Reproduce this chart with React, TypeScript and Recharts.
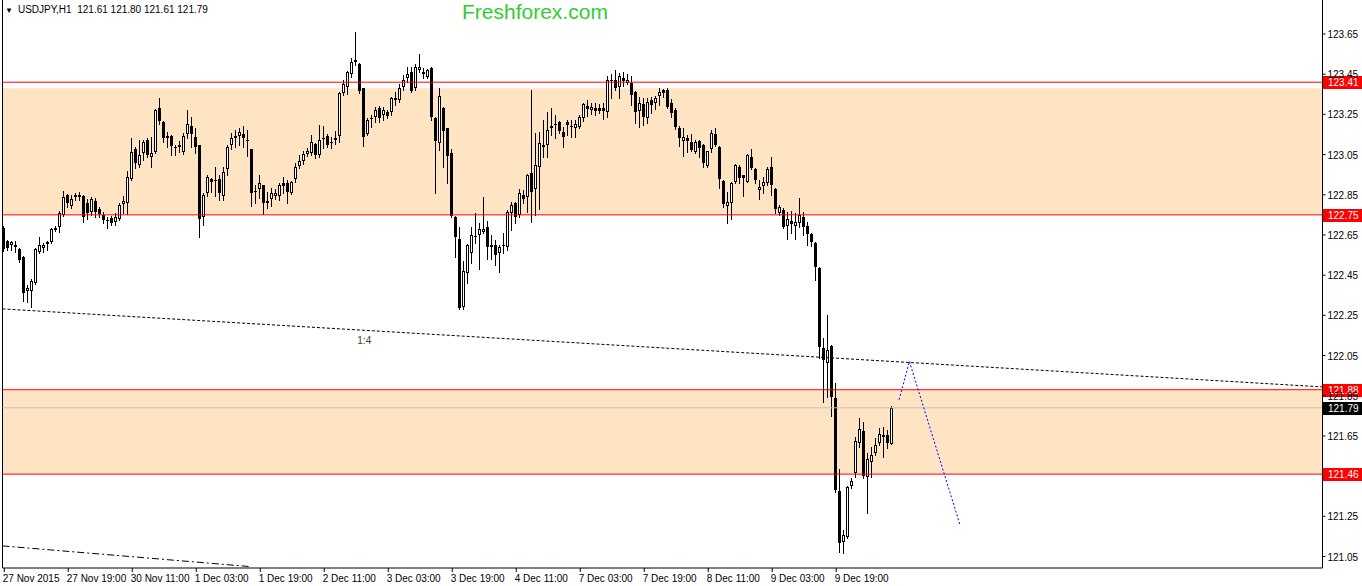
import React from 'react';
import {
  ComposedChart,
  Bar,
  XAxis,
  YAxis,
  ReferenceArea,
  ReferenceLine,
  ReferenceDot,
} from 'recharts';

// USDJPY H1 candles (bar 0 = 27 Nov 2015)
const opens = [
  122.685, 122.620, 122.600, 122.600, 122.580, 122.540, 122.371, 122.371, 122.411, 122.565,
  122.585, 122.605, 122.615, 122.685, 122.690, 122.749, 122.849, 122.794, 122.839, 122.849,
  122.844, 122.809, 122.764, 122.819, 122.779, 122.749, 122.725, 122.734, 122.715, 122.729,
  122.804, 122.809, 122.928, 123.078, 122.998, 123.058, 123.123, 123.038, 123.063, 123.282,
  123.212, 123.142, 123.142, 123.088, 123.098, 123.063, 123.152, 123.192, 123.137, 123.098,
  122.739, 122.859, 122.928, 122.924, 122.928, 122.844, 122.978, 123.098, 123.142, 123.142,
  123.152, 123.123, 123.078, 122.869, 122.879, 122.899, 122.819, 122.829, 122.844, 122.844,
  122.909, 122.909, 122.859, 122.928, 122.993, 123.018, 123.053, 123.058, 123.103, 123.048,
  123.128, 123.142, 123.108, 123.123, 123.142, 123.356, 123.386, 123.451, 123.521, 123.501,
  123.381, 123.152, 123.227, 123.237, 123.282, 123.247, 123.262, 123.262, 123.322, 123.322,
  123.386, 123.431, 123.461, 123.381, 123.471, 123.461, 123.436, 123.481, 123.232, 123.108,
  123.282, 123.182, 123.058, 122.739, 122.630, 122.292, 122.461, 122.560, 122.640, 122.650,
  122.665, 122.690, 122.600, 122.600, 122.560, 122.595, 122.590, 122.759, 122.809, 122.749,
  122.849, 122.839, 122.958, 122.879, 122.988, 123.098, 123.098, 123.182, 123.197, 123.212,
  123.162, 123.212, 123.192, 123.182, 123.187, 123.232, 123.292, 123.272, 123.282, 123.282,
  123.282, 123.262, 123.416, 123.421, 123.386, 123.431, 123.406, 123.406, 123.361, 123.267,
  123.302, 123.232, 123.322, 123.307, 123.341, 123.371, 123.371, 123.307, 123.272, 123.182,
  123.118, 123.132, 123.113, 123.063, 123.118, 123.098, 122.993, 123.078, 123.152, 123.088,
  122.919, 122.794, 122.809, 122.914, 122.988, 122.948, 122.914, 123.038, 122.978, 122.874,
  122.894, 122.909, 122.988, 122.879, 122.759, 122.774, 122.695, 122.720, 122.695, 122.710,
  122.739, 122.695, 122.655, 122.610, 122.486, 122.088, 122.013, 122.098, 121.839, 121.376,
  121.123, 121.147, 121.401, 121.466, 121.615, 121.675, 121.446, 121.521, 121.565, 121.615,
  121.655, 121.655, 121.610,
];

const highs = [
  122.695, 122.625, 122.620, 122.620, 122.585, 122.545, 122.401, 122.431, 122.585, 122.640,
  122.610, 122.620, 122.685, 122.695, 122.769, 122.869, 122.854, 122.849, 122.859, 122.864,
  122.849, 122.829, 122.839, 122.834, 122.789, 122.764, 122.739, 122.744, 122.759, 122.809,
  122.844, 122.968, 123.132, 123.088, 123.123, 123.123, 123.132, 123.137, 123.277, 123.331,
  123.217, 123.162, 123.147, 123.098, 123.118, 123.157, 123.272, 123.237, 123.182, 123.100,
  122.859, 122.948, 122.933, 122.988, 122.948, 122.988, 123.098, 123.157, 123.172, 123.182,
  123.192, 123.172, 123.080, 122.899, 122.948, 122.900, 122.864, 122.884, 122.879, 122.909,
  122.938, 122.924, 122.916, 123.008, 123.048, 123.068, 123.083, 123.147, 123.108, 123.197,
  123.192, 123.152, 123.137, 123.167, 123.361, 123.421, 123.466, 123.530, 123.660, 123.506,
  123.383, 123.232, 123.247, 123.287, 123.292, 123.287, 123.272, 123.336, 123.361, 123.401,
  123.446, 123.486, 123.486, 123.501, 123.550, 123.481, 123.476, 123.486, 123.237, 123.381,
  123.287, 123.184, 123.078, 122.744, 122.690, 122.521, 122.605, 122.690, 122.759, 122.710,
  122.839, 122.720, 122.650, 122.625, 122.600, 122.660, 122.774, 122.814, 122.814, 122.879,
  122.874, 122.953, 123.371, 123.157, 123.162, 123.222, 123.262, 123.282, 123.247, 123.217,
  123.187, 123.222, 123.222, 123.222, 123.247, 123.307, 123.322, 123.307, 123.307, 123.302,
  123.307, 123.441, 123.451, 123.471, 123.456, 123.461, 123.451, 123.441, 123.366, 123.336,
  123.331, 123.331, 123.336, 123.341, 123.381, 123.376, 123.381, 123.326, 123.282, 123.192,
  123.182, 123.147, 123.152, 123.123, 123.123, 123.103, 123.070, 123.172, 123.182, 123.093,
  122.924, 122.864, 122.911, 123.003, 122.998, 122.950, 123.053, 123.078, 122.983, 122.924,
  122.938, 122.988, 123.038, 122.884, 122.799, 122.784, 122.764, 122.769, 122.759, 122.834,
  122.764, 122.715, 122.660, 122.615, 122.491, 122.137, 122.252, 122.103, 121.914, 121.486,
  121.182, 121.401, 121.441, 121.645, 121.739, 121.720, 121.565, 121.595, 121.640, 121.690,
  121.695, 121.680, 121.800,
];

const lows = [
  122.570, 122.575, 122.575, 122.565, 122.516, 122.322, 122.317, 122.292, 122.406, 122.560,
  122.565, 122.575, 122.610, 122.670, 122.665, 122.744, 122.789, 122.784, 122.824, 122.824,
  122.715, 122.729, 122.749, 122.739, 122.739, 122.710, 122.685, 122.700, 122.700, 122.725,
  122.759, 122.754, 122.924, 122.983, 122.988, 123.023, 123.038, 122.988, 123.058, 123.202,
  123.113, 123.088, 123.048, 123.048, 123.063, 123.053, 123.132, 123.088, 123.058, 122.640,
  122.700, 122.844, 122.864, 122.844, 122.824, 122.824, 122.948, 123.078, 123.088, 123.098,
  123.088, 123.043, 122.794, 122.809, 122.834, 122.754, 122.784, 122.794, 122.829, 122.824,
  122.859, 122.809, 122.854, 122.914, 122.983, 123.003, 123.043, 123.048, 123.033, 123.038,
  123.083, 123.088, 123.083, 123.103, 123.113, 123.346, 123.351, 123.436, 123.496, 123.356,
  123.093, 123.147, 123.187, 123.212, 123.212, 123.222, 123.232, 123.247, 123.296, 123.311,
  123.371, 123.411, 123.361, 123.371, 123.461, 123.431, 123.431, 123.222, 122.859, 123.073,
  122.988, 122.909, 122.739, 122.540, 122.282, 122.282, 122.411, 122.511, 122.610, 122.481,
  122.660, 122.530, 122.530, 122.501, 122.466, 122.560, 122.575, 122.675, 122.710, 122.739,
  122.809, 122.764, 122.715, 122.749, 122.779, 123.038, 123.038, 123.147, 123.132, 123.157,
  123.088, 123.147, 123.137, 123.137, 123.182, 123.217, 123.242, 123.252, 123.247, 123.257,
  123.227, 123.237, 123.331, 123.371, 123.331, 123.391, 123.401, 123.296, 123.207, 123.187,
  123.197, 123.207, 123.257, 123.277, 123.296, 123.336, 123.282, 123.237, 123.177, 123.093,
  123.043, 123.063, 123.068, 123.058, 123.038, 122.988, 122.988, 123.063, 123.093, 122.884,
  122.789, 122.710, 122.729, 122.909, 122.909, 122.844, 122.912, 122.978, 122.909, 122.829,
  122.859, 122.899, 122.849, 122.759, 122.749, 122.685, 122.630, 122.660, 122.630, 122.690,
  122.650, 122.600, 122.595, 122.426, 122.038, 121.819, 121.844, 121.749, 121.371, 121.073,
  121.068, 121.142, 121.391, 121.446, 121.595, 121.441, 121.267, 121.446, 121.555, 121.605,
  121.545, 121.590, 121.610,
];

const closes = [
  122.580, 122.585, 122.615, 122.590, 122.526, 122.361, 122.386, 122.421, 122.580, 122.600,
  122.600, 122.615, 122.680, 122.675, 122.759, 122.839, 122.809, 122.829, 122.849, 122.839,
  122.739, 122.759, 122.829, 122.764, 122.754, 122.725, 122.720, 122.710, 122.739, 122.799,
  122.819, 122.938, 123.063, 123.008, 123.048, 123.113, 123.048, 123.058, 123.272, 123.217,
  123.132, 123.132, 123.093, 123.086, 123.088, 123.142, 123.202, 123.152, 123.088, 122.729,
  122.849, 122.938, 122.914, 122.919, 122.859, 122.963, 123.088, 123.132, 123.132, 123.162,
  123.132, 123.120, 122.859, 122.867, 122.909, 122.809, 122.809, 122.859, 122.859, 122.899,
  122.894, 122.864, 122.914, 122.988, 123.018, 123.053, 123.068, 123.113, 123.048, 123.123,
  123.132, 123.098, 123.113, 123.132, 123.356, 123.401, 123.461, 123.511, 123.511, 123.366,
  123.137, 123.222, 123.232, 123.272, 123.232, 123.272, 123.242, 123.331, 123.331, 123.381,
  123.421, 123.451, 123.366, 123.486, 123.486, 123.451, 123.471, 123.237, 123.118, 123.341,
  123.167, 123.043, 122.744, 122.640, 122.287, 122.471, 122.600, 122.650, 122.645, 122.680,
  122.680, 122.590, 122.590, 122.550, 122.590, 122.600, 122.764, 122.799, 122.739, 122.859,
  122.829, 122.948, 122.864, 122.998, 123.108, 123.088, 123.172, 123.192, 123.202, 123.167,
  123.137, 123.197, 123.190, 123.202, 123.237, 123.302, 123.277, 123.287, 123.267, 123.267,
  123.267, 123.421, 123.421, 123.381, 123.441, 123.416, 123.421, 123.346, 123.262, 123.307,
  123.237, 123.312, 123.297, 123.331, 123.361, 123.356, 123.287, 123.257, 123.187, 123.132,
  123.137, 123.118, 123.073, 123.113, 123.083, 123.008, 123.068, 123.157, 123.098, 122.928,
  122.804, 122.814, 122.909, 122.998, 122.933, 122.933, 123.048, 122.983, 122.924, 122.889,
  122.914, 122.978, 122.899, 122.779, 122.789, 122.690, 122.729, 122.705, 122.715, 122.749,
  122.690, 122.655, 122.615, 122.491, 122.093, 122.028, 122.078, 121.844, 121.381, 121.118,
  121.157, 121.396, 121.426, 121.625, 121.685, 121.451, 121.535, 121.555, 121.605, 121.660,
  121.645, 121.615, 121.790,
];

const timeLabels = [
  '27 Nov 2015', '27 Nov 19:00', '30 Nov 11:00', '1 Dec 03:00', '1 Dec 19:00',
  '2 Dec 11:00', '3 Dec 03:00', '3 Dec 19:00', '4 Dec 11:00', '7 Dec 03:00',
  '7 Dec 19:00', '8 Dec 11:00', '9 Dec 03:00', '9 Dec 19:00',
];
const timeTicks = timeLabels.map((_, k) => k * 16);

const priceTicks = [
  121.05, 121.25, 121.65, 121.85, 122.05, 122.25, 122.45,
  122.65, 122.85, 123.05, 123.25, 123.45, 123.65,
];

// marked levels and zones
const levels = [123.41, 122.75, 121.88, 121.46];
const zones = [
  [122.75, 123.38],
  [121.46, 121.88],
];
const lastPrice = 121.79;

// hand-drawn lines (bar index, price)
const trendLine = [{ x: -0.4375, y: 122.282 }, { x: 329.5625, y: 121.894 }];
const dashDotLine = [{ x: -0.4375, y: 121.103 }, { x: 61.5, y: 121.0 }];
const forecast = [
  { x: 223.7, y: 121.83 },
  { x: 226.3, y: 122.02 },
  { x: 238.9, y: 121.21 },
];

const data = opens.map((o, i) => ({
  i,
  o,
  h: highs[i],
  l: lows[i],
  c: closes[i],
  range: [lows[i], highs[i]],
}));

const FONT = '"Liberation Sans", Arial, sans-serif';

function Candle(props: any) {
  const { x, y, width, height, payload } = props;
  if (x == null || y == null || !payload) return null;
  const top = Math.min(y, y + height);
  const bot = Math.max(y, y + height);
  const { o, h, l, c } = payload;
  const span = h - l || 1;
  const py = (v: number) => top + ((h - v) / span) * (bot - top);
  const px = Math.floor(x + width / 2) + 0.5;
  const yo = py(o);
  const yc = py(c);
  const t = Math.round(Math.min(yo, yc));
  const b = Math.round(Math.max(yo, yc));
  const bull = c >= o;
  let body;
  if (b - t < 2) {
    body = <line x1={px - 1.5} x2={px + 1.5} y1={t + 0.5} y2={t + 0.5} stroke="#000" />;
  } else if (bull) {
    body = <rect x={px - 1} y={t + 0.5} width={2} height={b - t - 1} fill="#fff" stroke="#000" />;
  } else {
    body = <rect x={px - 1.5} y={t} width={3} height={b - t} fill="#000" />;
  }
  return (
    <g>
      <line x1={px} x2={px} y1={Math.round(top)} y2={Math.round(bot) + 1} stroke="#000" />
      {body}
    </g>
  );
}

function PriceTag(props: any) {
  const { viewBox, text, bg } = props;
  if (!viewBox) return null;
  const x = viewBox.x + viewBox.width;
  const y = Math.round(viewBox.y);
  return (
    <g>
      <rect x={x + 0.5} y={y - 6} width={40} height={13} fill={bg} />
      <text x={x + 5.5} y={y + 4} fill="#fff" fontSize={10} fontFamily={FONT}>
        {text}
      </text>
    </g>
  );
}

function RatioLabel(props: any) {
  const { viewBox } = props;
  if (!viewBox) return null;
  const cx = viewBox.x + viewBox.width / 2;
  const cy = viewBox.y + viewBox.height / 2;
  return (
    <text x={cx} y={cy + 4} textAnchor="middle" fill="#234a23" fontSize={10} fontFamily={FONT}>
      1:4
    </text>
  );
}

function TimeTick(props: any) {
  const { x, y, payload } = props;
  return (
    <text x={x - 1.5} y={y + 8} fill="#000" fontSize={10} fontFamily={FONT} textAnchor="start">
      {timeLabels[Math.round(payload.value / 16)]}
    </text>
  );
}

function PriceTick(props: any) {
  const { x, y, payload } = props;
  return (
    <text x={x} y={y + 4} fill="#000" fontSize={10} fontFamily={FONT} textAnchor="start">
      {payload.value.toFixed(2)}
    </text>
  );
}

export default function App() {
  return (
    <div style={{ position: 'absolute', left: 0, top: 0, width: 1362, height: 586, background: '#fff' }}>
      <ComposedChart
        width={1362}
        height={586}
        data={data}
        margin={{ top: 0, right: 0, left: 2.5, bottom: 0 }}
      >
        <XAxis
          type="number"
          dataKey="i"
          domain={[-0.4375, 329.5625]}
          allowDataOverflow
          ticks={timeTicks}
          interval={0}
          height={18}
          tickSize={4}
          tickMargin={2}
          tick={<TimeTick />}
          axisLine={{ stroke: '#000' }}
          tickLine={{ stroke: '#000' }}
        />
        <YAxis
          orientation="right"
          type="number"
          domain={[120.993, 123.819]}
          allowDataOverflow
          ticks={priceTicks}
          interval={0}
          width={39.5}
          tickSize={3}
          tickMargin={2}
          tick={<PriceTick />}
          axisLine={{ stroke: '#000' }}
          tickLine={{ stroke: '#000' }}
        />
        {zones.map(([lo, hi], k) => (
          <ReferenceArea key={`z${k}`} y1={lo} y2={hi} fill="#FFE4C4" fillOpacity={1} stroke="none" />
        ))}
        <ReferenceLine x={-0.4375} stroke="#000" />
        <ReferenceLine y={lastPrice} stroke="#C0C0C0" label={<PriceTag text="121.79" bg="#000" />} />
        {levels.map((v) => (
          <ReferenceLine
            key={`l${v}`}
            y={v}
            stroke="#FF0000"
            label={<PriceTag text={v.toFixed(2)} bg="#FF0000" />}
          />
        ))}
        <ReferenceLine segment={trendLine} stroke="#000" strokeDasharray="3 2" />
        <ReferenceLine segment={dashDotLine} stroke="#000" strokeDasharray="7 3 2 3" />
        <ReferenceLine segment={[forecast[0], forecast[1]]} stroke="#0000FF" strokeDasharray="2 2" />
        <ReferenceLine segment={[forecast[1], forecast[2]]} stroke="#0000FF" strokeDasharray="2 2" />
        <ReferenceDot x={90} y={122.128} r={0} fill="none" stroke="none" label={<RatioLabel />} />
        <Bar
          dataKey="range"
          barSize={3}
          isAnimationActive={false}
          shape={(p: any) => <Candle {...p} />}
        />
      </ComposedChart>
      <div
        style={{
          position: 'absolute',
          left: 5,
          top: 5,
          fontFamily: FONT,
          fontSize: 10,
          lineHeight: '10px',
          color: '#000',
          whiteSpace: 'pre',
        }}
      >
        <span style={{ fontSize: 8, marginRight: 5 }}>▼</span>USDJPY,H1  121.61 121.80 121.61 121.79
      </div>
      <div
        style={{
          position: 'absolute',
          left: 462,
          top: 0,
          fontFamily: FONT,
          fontSize: 21,
          lineHeight: '23px',
          color: '#32CD32',
        }}
      >
        Freshforex.com
      </div>
    </div>
  );
}
